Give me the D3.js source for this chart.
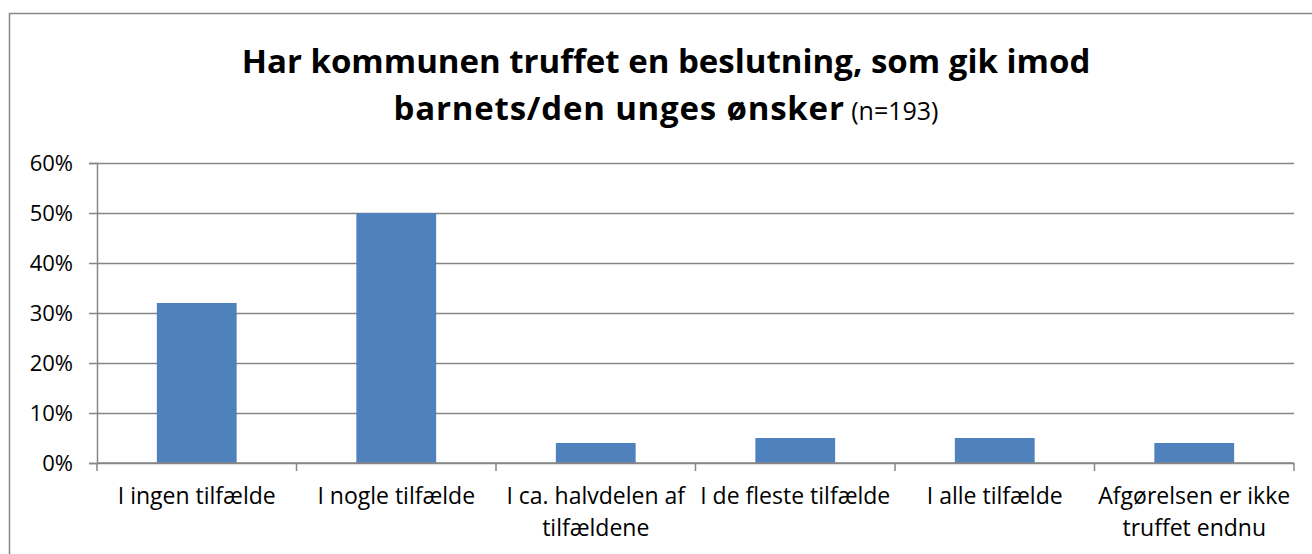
<!DOCTYPE html>
<html>
<head>
<meta charset="utf-8">
<script src="https://cdn.jsdelivr.net/npm/d3@7"></script>
<style>
  html, body { margin: 0; padding: 0; background: #fff; }
  svg { display: block; }
</style>
</head>
<body>
<div id="chart"></div>
<script>
// data
const categories = [
  "I ingen tilfælde",
  "I nogle tilfælde",
  "I ca. halvdelen af|tilfældene",
  "I de fleste tilfælde",
  "I alle tilfælde",
  "Afgørelsen er ikke|truffet endnu"
];
const values = [0.32, 0.50, 0.04, 0.05, 0.05, 0.04];
const yTicks = [0, 0.1, 0.2, 0.3, 0.4, 0.5, 0.6];

const width = 1312;
const height = 554;
const margin = { top: 163, right: 18, bottom: 91, left: 97 };
const font = "'Open Sans', 'Liberation Sans', Arial, sans-serif";

const svg = d3.select("#chart")
    .append("svg")
    .attr("width", width)
    .attr("height", height);

// chart border
svg.append("rect")
    .attr("x", 9.5)
    .attr("y", 13.5)
    .attr("width", width + 20)
    .attr("height", height + 20)
    .attr("fill", "none")
    .attr("stroke", "#868686")
    .attr("stroke-width", 1.5);

// title
const title = svg.append("text")
    .attr("text-anchor", "middle")
    .attr("font-family", font)
    .attr("fill", "#000");
title.append("tspan")
    .attr("x", 666).attr("y", 73)
    .attr("font-weight", "bold").attr("font-size", 33)
    .text("Har kommunen truffet en beslutning, som gik imod");
const t2 = title.append("tspan")
    .attr("x", 666).attr("y", 120);
t2.append("tspan").attr("font-weight", "bold").attr("font-size", 33)
    .attr("letter-spacing", 0.8).text("barnets/den unges ønsker");
t2.append("tspan").attr("font-size", 25).attr("letter-spacing", 0).text(" (n=193)");

const x = d3.scaleBand()
    .domain(categories)
    .range([margin.left, width - margin.right])
    .paddingInner(0.6)
    .paddingOuter(0.3);

const y = d3.scaleLinear()
    .domain([0, 0.6])
    .range([height - margin.bottom, margin.top]);

// gridlines
svg.append("g")
    .attr("transform", `translate(${margin.left},0)`)
    .call(d3.axisLeft(y).tickValues(yTicks).tickSize(-(width - margin.right - margin.left)).tickFormat(""))
    .call(g => g.select(".domain").remove())
    .call(g => g.selectAll("line").attr("stroke", "#868686").attr("stroke-width", 1.5));

// bars
svg.append("g")
    .attr("fill", "#4F81BD")
    .selectAll("rect")
    .data(values)
    .join("rect")
    .attr("x", (d, i) => x(categories[i]))
    .attr("y", d => y(d))
    .attr("height", d => y(0) - y(d))
    .attr("width", x.bandwidth());

// y axis
svg.append("g")
    .attr("transform", `translate(${margin.left},0)`)
    .call(d3.axisLeft(y).tickValues(yTicks).tickSize(8).tickPadding(16).tickFormat(d3.format(".0%")))
    .call(g => g.select(".domain").attr("stroke", "#868686").attr("stroke-width", 1.5))
    .call(g => g.selectAll("line").attr("stroke", "#868686").attr("stroke-width", 1.5))
    .call(g => g.selectAll("text").attr("font-family", font).attr("font-size", 22).attr("fill", "#000"));

// x axis with boundary ticks
const step = x.step();
const bounds = d3.range(categories.length + 1).map(i => margin.left + i * step);
const xAxis = svg.append("g");
xAxis.append("line")
    .attr("x1", margin.left).attr("x2", width - margin.right)
    .attr("y1", y(0)).attr("y2", y(0))
    .attr("stroke", "#868686").attr("stroke-width", 1.5);
xAxis.selectAll(".bt")
    .data(bounds)
    .join("line")
    .attr("x1", d => d).attr("x2", d => d)
    .attr("y1", y(0)).attr("y2", y(0) + 8)
    .attr("stroke", "#868686").attr("stroke-width", 1.5);

xAxis.selectAll(".lbl")
    .data(categories)
    .join("text")
    .attr("text-anchor", "middle")
    .attr("font-family", font)
    .attr("font-size", 23)
    .attr("fill", "#000")
    .each(function(d) {
        const lines = d.split("|");
        const cx = x(d) + x.bandwidth() / 2;
        lines.forEach((l, i) => {
            d3.select(this).append("tspan")
                .attr("x", cx)
                .attr("y", 504 + i * 32)
                .text(l);
        });
    });
</script>
</body>
</html>
